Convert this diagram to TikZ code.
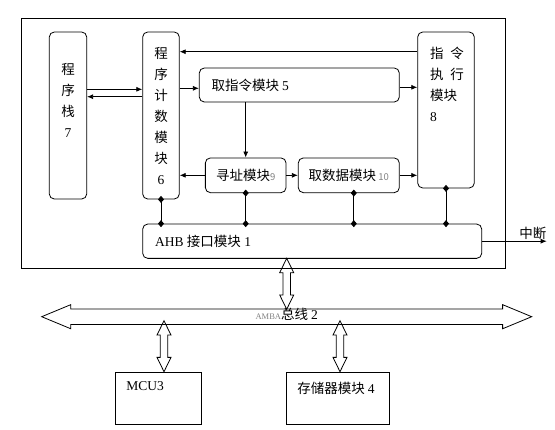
\documentclass[tikz,border=0pt]{standalone}
\usepackage{fontspec}
\setmainfont{Liberation Serif}
\newfontfamily\cjk{Noto Sans CJK SC}
\usetikzlibrary{arrows.meta,shapes.arrows}

\newcommand{\sm}[1]{\textcolor{gray}{\fontsize{9.5}{9.5}\selectfont #1}}

\begin{document}
\begin{tikzpicture}[
  x=1pt, y=-1pt,
  line width=0.8pt,
  font=\fontsize{13.5}{21}\selectfont,
  module/.style={
    draw,
    rounded corners=5pt,
    inner sep=0pt,
    align=center
  },
  plainbox/.style={
    draw,
    inner sep=0pt
  },
  arrow/.style={-{Latex[length=6pt,width=5pt]}},
  bond/.style={{Diamond[length=7pt,width=6pt]}-{Diamond[length=7pt,width=6pt]},
    shorten <=-3.5pt, shorten >=-3.5pt},
  fat/.style={
    draw,
    double arrow,
    inner sep=3.3pt,
    double arrow head extend=3.3pt,
    double arrow tip angle=52,
    shape border rotate=90
  }
]
\useasboundingbox (0,0) rectangle (555,429);

% chip and its modules
\node[plainbox, minimum width=484.2pt, minimum height=250pt] (chip) at (263.6, 143) {};

\node[module, minimum width=37.4pt, minimum height=167pt,
  label={[anchor=north, yshift=-28pt, align=center]north:{\cjk 程\\\cjk 序\\\cjk 栈\\7}}] (stack) at (68, 115.5) {};
\node[module, minimum width=36.6pt, minimum height=167pt] (pc) at (161, 115.5)
  {\cjk 程\\\cjk 序\\\cjk 计\\\cjk 数\\\cjk 模\\\cjk 块\\6};
\node[module, minimum width=200pt, minimum height=34pt,
  label={[anchor=west, xshift=9pt]west:{\cjk 取指令模块 \rmfamily 5}}] (fetch) at (299.3, 85) {};
\node[module, minimum width=80.7pt, minimum height=34.7pt] (addr) at (245.7, 175.3)
  {\cjk 寻址模块\sm{9}};
\node[module, minimum width=101pt, minimum height=34.7pt] (data) at (348.8, 175.3)
  {\cjk 取数据模块\,\sm{10}};
\node[module, minimum width=56.6pt, minimum height=156pt,
  label={[anchor=north west, xshift=9pt, yshift=-12pt, align=left]north west:{\cjk 指\enspace 令\\\cjk 执\enspace 行\\\cjk 模块\\8}}] (exec) at (446, 110) {};
\node[module, minimum width=339pt, minimum height=34.3pt,
  label={[anchor=west, xshift=9pt]west:{AHB {\cjk 接口模块} 1}}] (ahb) at (312.2, 241.2) {};

% bus and outer modules
\node[draw, double arrow, minimum height=490pt, inner xsep=0pt, inner ysep=0pt,
  text height=10pt, text depth=4.7pt,
  double arrow head extend=4.3pt, double arrow tip angle=45] (bus) at (286.7, 316.7)
  {{\color{gray}\fontsize{8.5}{8.5}\selectfont AMBA}\cjk 总线 \rmfamily 2};
\node[plainbox, minimum width=86pt, minimum height=51.7pt,
  label={[anchor=north west, xshift=8pt, yshift=-6pt]north west:{MCU3}}] (mcu) at (158, 398.2) {};
\node[plainbox, minimum width=103pt, minimum height=51.7pt,
  label={[anchor=north west, xshift=8pt, yshift=-6pt]north west:{\cjk 存储器模块 \rmfamily 4}}] (mem) at (337.5, 398.2) {};

\node[fat, minimum height=51pt] (ahbbus) at (286.7, 283.8) {};
\node[fat, minimum height=51pt] (mcubus) at (164, 346.2) {};
\node[fat, minimum height=51pt] (membus) at (340, 346.2) {};

\coordinate (irq) at (546.7, 241.2);

% connections
\draw[arrow] ([yshift=58.3pt]exec.west) -- ([yshift=63.8pt]pc.east);
\draw[arrow] ([yshift=26.2pt]stack.east) -- ([yshift=26.2pt]pc.west);
\draw[arrow] ([yshift=18.8pt]pc.west) -- ([yshift=18.8pt]stack.east);
\draw[arrow] ([yshift=27.2pt]pc.east) -- ([yshift=-3.3pt]fetch.west);
\draw[arrow] ([yshift=-2.3pt]fetch.east) -- ([yshift=22.7pt]exec.west);
\draw[arrow] (addr.north |- fetch.south) -- (addr.north);
\draw[arrow] (addr.west) -- (addr.west -| pc.east);
\draw[arrow] (addr.east) -- (data.west);
\draw[arrow] (data.east) -- (data.east -| exec.west);

\draw[bond] (pc.south) -- (pc.south |- ahb.north);
\draw[bond] (addr.south) -- (addr.south |- ahb.north);
\draw[bond] ([xshift=5pt]data.south) -- ([xshift=5pt]data.south |- ahb.north);
\draw[bond] (exec.south) -- (exec.south |- ahb.north);

\draw[arrow] (ahb.east) -- (irq) node[pos=1, above left, inner sep=1pt, xshift=1pt] {\cjk 中断};

\end{tikzpicture}
\end{document}
